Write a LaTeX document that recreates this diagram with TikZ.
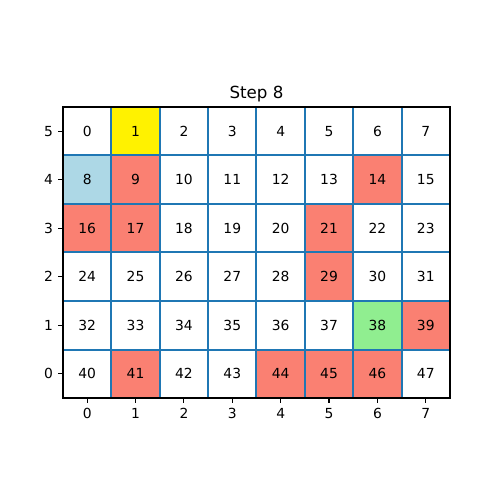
\documentclass[tikz,border=0pt]{standalone}
\usepackage{fontspec}
\setmainfont{DejaVu Sans}
\definecolor{salmon}{HTML}{FA8072}
\definecolor{lightblue}{HTML}{ADD8E6}
\definecolor{lightgreen}{HTML}{90EE90}
\definecolor{gridblue}{HTML}{1F77B4}
\tikzset{
	cell/.style={draw=gridblue, line width=1.5pt, minimum width=36.28pt, minimum height=36.375pt, inner sep=0pt, font=\fontsize{10.4}{12}\selectfont},
	ticklabel/.style={font=\fontsize{10.4}{12}\selectfont, inner sep=0pt},
	spine/.style={line width=0.83pt},
}
\begin{document}
\begin{tikzpicture}[x=36.28pt, y=36.375pt]
		\useasboundingbox (-1.3023, -2.1031) rectangle (9.0336, 8.2062);
		
		% coloured cells
		\foreach \n/\clr in {1/yellow, 8/lightblue, 9/salmon, 14/salmon, 16/salmon, 17/salmon, 21/salmon, 29/salmon, 38/lightgreen, 39/salmon, 41/salmon, 44/salmon, 45/salmon, 46/salmon} {
			\pgfmathtruncatemacro{\col}{mod(\n,8)}
			\pgfmathtruncatemacro{\row}{5-int(\n/8)}
			\fill[\clr] (\col, \row) rectangle +(1, 1);
		}
		
		% grid of cells
		\foreach \n in {0,...,47} {
			\pgfmathtruncatemacro{\col}{mod(\n,8)}
			\pgfmathtruncatemacro{\row}{5-int(\n/8)}
			\node[cell] (c\n) at (\col+0.5, \row+0.5) {\n};
		}
		
		\draw[spine] (0, 0) rectangle (8, 6);
		
		% ticks
		\foreach \i in {0,...,7}
			\draw[spine] (\i+0.5, 0) -- ++(0, -3.6pt) node[below=3.6pt, ticklabel] (xt\i) {\i};
		\foreach \j in {0,...,5}
			\draw[spine] (0, \j+0.5) -- ++(-3.6pt, 0) node[left=3.6pt, ticklabel] (yt\j) {\j};
		
		\node[anchor=base, font=\fontsize{12.5}{15}\selectfont] (title) at ([yshift=6.25pt]4, 6) {Step 8};
	\end{tikzpicture}
\end{document}
